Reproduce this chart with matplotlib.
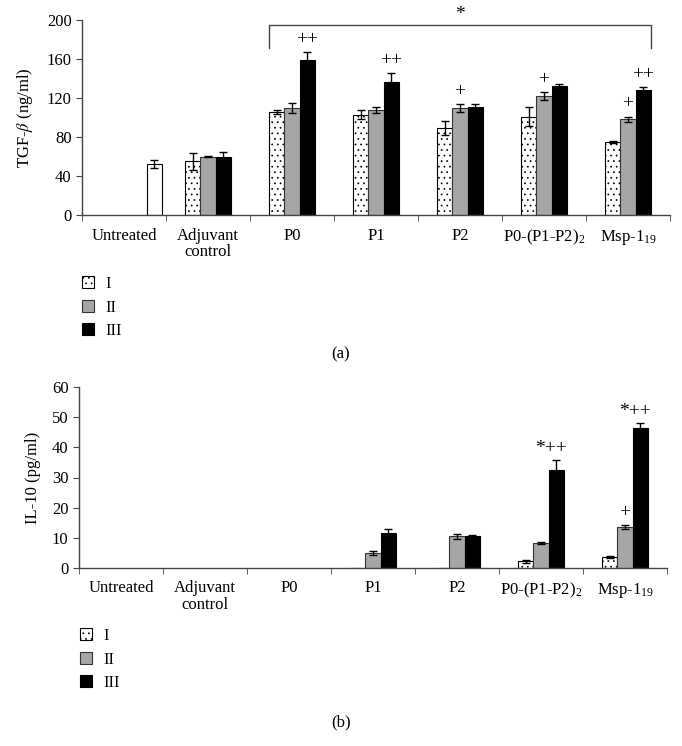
import numpy as np
import matplotlib
matplotlib.use('Agg')
import matplotlib.pyplot as plt

plt.rcParams['font.family'] = ['Liberation Serif', 'DejaVu Serif']
plt.rcParams['mathtext.fontset'] = 'stix'
plt.rcParams['hatch.linewidth'] = 0.5

# ---- data ----
categories = ['Untreated', 'Adjuvant\ncontrol', 'P0', 'P1', 'P2',
              'P0-(P1-P2)$_\\mathregular{2}$', 'Msp-1$_\\mathregular{19}$']
series = ['I', 'II', 'III']

# TGF-beta (ng/ml), groups from Adjuvant control onward
tgf_untreated = 52
tgf_untreated_err = 4
tgf_I = [55, 106, 103, 89, 101, 75]
tgf_II = [60, 110, 108, 110, 122, 98]
tgf_III = [60, 159, 136, 111, 132, 128]
tgf_I_err = [9, 2, 5, 7, 10, 1]
tgf_II_err = [1, 5, 3, 4, 4, 3]
tgf_III_err = [5, 8, 10, 3, 2, 3]
tgf_marks = {(1, 2): '++', (2, 2): '++', (3, 1): '+', (4, 1): '+',
             (5, 1): '+', (5, 2): '++'}

# IL-10 (pg/ml), groups P1 onward
il_I = [0, 0, 2.2, 3.7]
il_II = [5.0, 10.5, 8.2, 13.5]
il_III = [11.7, 10.5, 32.5, 46.5]
il_I_err = [0, 0, 0.4, 0.3]
il_II_err = [0.7, 0.8, 0.3, 0.7]
il_III_err = [1.2, 0.3, 3.2, 1.5]
il_marks = {(2, 2): '*++', (3, 1): '+', (3, 2): '*++'}

W, H = 682, 746
fig = plt.figure(figsize=(W / 100, H / 100), dpi=100)

bw = 0.18
offs = [-bw, 0, bw]
styles = [dict(color='white', edgecolor='black', hatch='...'),
          dict(color='#a6a6a6', edgecolor='#333333'),
          dict(color='black', edgecolor='black')]
ekw = dict(ecolor='black', elinewidth=1, capsize=3, capthick=1)
fs = 12


def format_axes(ax, ymax, ystep):
    for s in ['top', 'right']:
        ax.spines[s].set_visible(False)
    for s in ['left', 'bottom']:
        ax.spines[s].set_color('#444444')
        ax.spines[s].set_linewidth(1)
    ax.set_xlim(0, len(categories))
    ax.set_ylim(0, ymax)
    ax.set_yticks(np.arange(0, ymax + 1, ystep))
    ax.set_xticks(np.arange(len(categories)) + 0.5)
    ax.set_xticklabels(categories, fontsize=fs, linespacing=1.05)
    ax.set_xticks(np.arange(len(categories) + 1), minor=True)
    ax.tick_params(axis='x', which='major', length=0, pad=9)
    ax.tick_params(axis='x', which='minor', length=4, color='#444444')
    ax.tick_params(axis='y', length=4, color='#444444', labelsize=fs)


def draw_groups(ax, first, vals, errs, marks):
    handles = []
    for k in range(3):
        xs = np.arange(first, first + len(vals[k])) + 0.5 + offs[k]
        h = ax.bar(xs, vals[k], bw, linewidth=0.8, zorder=2, **styles[k])
        handles.append(h)
        for x, v, e in zip(xs, vals[k], errs[k]):
            if v > 0:
                ax.errorbar(x, v, yerr=e, fmt='none', zorder=3, **ekw)
    for (g, k), txt in marks.items():
        x = first + g + 0.5 + offs[k]
        top = vals[k][g] + errs[k][g]
        dx = -4 if txt.startswith('*') else 0
        ax.annotate(txt, (x, top), xytext=(dx, 9), textcoords='offset points',
                    ha='center', va='center', fontsize=14)
    return handles


# ---- (a) TGF-beta ----
ax1 = fig.add_axes([82 / W, 1 - 215 / H, 588 / W, 195 / H])
format_axes(ax1, 200, 40)
ax1.bar(0.5 + 0.36, tgf_untreated, bw, linewidth=0.8, zorder=2,
        color='white', edgecolor='black')
ax1.errorbar(0.5 + 0.36, tgf_untreated, yerr=tgf_untreated_err, fmt='none',
             zorder=3, **ekw)
h1 = draw_groups(ax1, 1, [tgf_I, tgf_II, tgf_III],
                 [tgf_I_err, tgf_II_err, tgf_III_err], tgf_marks)
ax1.set_ylabel('TGF-$\\beta$ (ng/ml)', fontsize=fs, labelpad=8)

# bracket over P0 .. Msp-1_19
xl = 2.5 + offs[0] - bw / 2
xr = 6.5 + offs[2] + bw / 2
ax1.plot([xl, xl, xr, xr], [171, 195, 195, 171], color='#444444', lw=1,
         clip_on=False)
ax1.text((xl + xr) / 2, 196.5, '*', ha='center', va='bottom', fontsize=14)

fig.legend(h1, series, loc='upper left', bbox_to_anchor=(82 / W, 1 - 276 / H),
           frameon=False, fontsize=fs, handlelength=0.7, handleheight=0.7,
           handletextpad=0.7, labelspacing=0.45, borderpad=0, borderaxespad=0)
fig.text(341 / W, 1 - 354 / H, '(a)', ha='center', va='center', fontsize=fs)

# ---- (b) IL-10 ----
ax2 = fig.add_axes([79 / W, 1 - 568 / H, 588 / W, 181 / H])
format_axes(ax2, 60, 10)
h2 = draw_groups(ax2, 3, [il_I, il_II, il_III],
                 [il_I_err, il_II_err, il_III_err], il_marks)
ax2.set_ylabel('IL-10 (pg/ml)', fontsize=fs, labelpad=8)

fig.legend(h2, series, loc='upper left', bbox_to_anchor=(80 / W, 1 - 628 / H),
           frameon=False, fontsize=fs, handlelength=0.7, handleheight=0.7,
           handletextpad=0.7, labelspacing=0.45, borderpad=0, borderaxespad=0)
fig.text(341 / W, 1 - 722 / H, '(b)', ha='center', va='center', fontsize=fs)

fig.savefig('out.png', dpi=100)
